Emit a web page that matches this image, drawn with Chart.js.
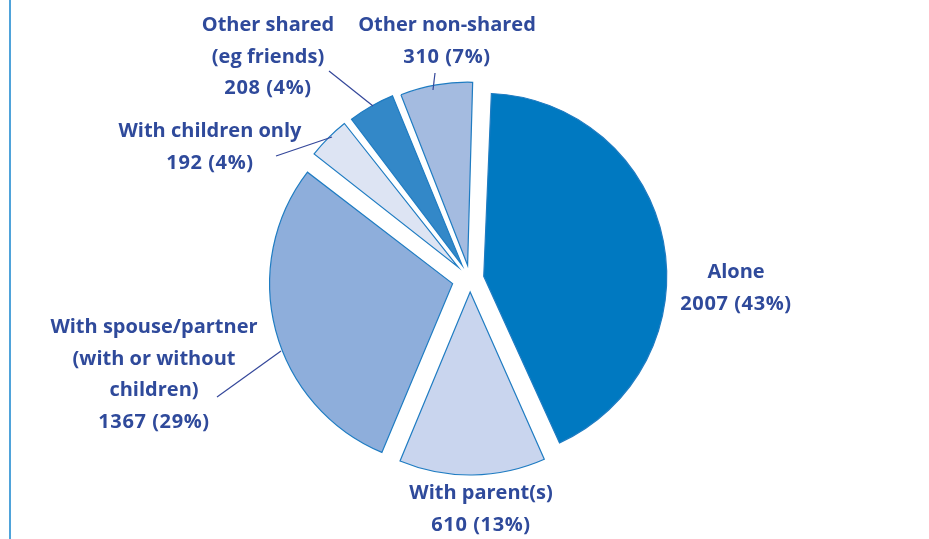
<!DOCTYPE html>
<html>
<head>
<meta charset="utf-8">
<script src="https://cdn.jsdelivr.net/npm/chart.js@4.4.0/dist/chart.umd.min.js"></script>
<style>
  html, body { margin: 0; padding: 0; background: #fff; }
  #wrap { position: relative; width: 929px; height: 539px; overflow: hidden; }
  #edge { position: absolute; left: 9px; top: 0; width: 2px; height: 539px; background: #4fa3da; }
  canvas { position: absolute; left: 0; top: 0; }
</style>
</head>
<body>
<div id="wrap">
  <canvas id="pieChart" width="929" height="539"></canvas>
  <div id="edge"></div>
</div>
<script>
// Living arrangements, clockwise from 12 o'clock
const categories = ['Alone', 'With parent(s)', 'With spouse/partner (with or without children)',
  'With children only', 'Other shared (eg friends)', 'Other non-shared'];
const counts = [2007, 610, 1367, 192, 208, 310];
const percents = [43, 13, 29, 4, 4, 7];
const nameLines = [
  ['Alone'],
  ['With parent(s)'],
  ['With spouse/partner', '(with or without', 'children)'],
  ['With children only'],
  ['Other shared', '(eg friends)'],
  ['Other non-shared']
];

// styling / layout
const sliceColors = ['#0079c1', '#c9d5ee', '#8eaedb', '#dde4f3', '#3388c8', '#a4bbe0'];
const explode = [14, 13, 18, 17, 16, 14];          // px each slice is pulled out
const RADIUS = 183;
const textColor = '#2f4a9b';
const lineHeight = 31.8;
// centre x and first-line y of every label
const labelAnchor = [[736, 272], [481, 493], [154, 327], [210, 131], [268, 25], [447, 25]];
// leader lines [label end, slice end]
const leaders = [null, null, [[217, 397], [281, 351]], [[276, 156], [332, 137]],
  [[329, 71], [373, 106]], [[435, 73], [433, 90]]];

// Chart.js grows the radius of offset arcs a little; pull it back so every slice keeps RADIUS
const keepRadius = {
  id: 'keepRadius',
  afterDatasetsUpdate(chart) {
    const meta = chart.getDatasetMeta(0);
    meta.data.forEach((arc, i) => {
      const off = explode[i];
      const fix = 1 - Math.sin(Math.min(Math.PI, arc.circumference));
      arc.outerRadius = RADIUS - off * fix;
    });
  }
};

const pieLabels = {
  id: 'pieLabels',
  afterDraw(chart) {
    const ctx = chart.ctx;
    ctx.save();
    ctx.strokeStyle = '#34479a';
    ctx.lineWidth = 1.2;
    leaders.forEach((ln) => {
      if (!ln) return;
      ctx.beginPath();
      ctx.moveTo(ln[0][0], ln[0][1]);
      ctx.lineTo(ln[1][0], ln[1][1]);
      ctx.stroke();
    });
    ctx.fillStyle = textColor;
    ctx.font = 'bold 20px "Open Sans"';
    ctx.textAlign = 'center';
    ctx.textBaseline = 'middle';
    nameLines.forEach((lines, i) => {
      const [x, y] = labelAnchor[i];
      ctx.letterSpacing = '0px';
      lines.forEach((t, k) => ctx.fillText(t, x, y + k * lineHeight));
      // the count line is set a touch wider, like the original's figures
      ctx.letterSpacing = '0.6px';
      ctx.fillText(counts[i] + ' (' + percents[i] + '%)', x, y + lines.length * lineHeight);
    });
    ctx.restore();
  }
};

const chart = new Chart(document.getElementById('pieChart'), {
  type: 'pie',
  data: {
    labels: categories,
    datasets: [{
      data: counts,
      backgroundColor: sliceColors,
      borderColor: '#1f7cc2',
      borderWidth: 1.2,
      borderJoinStyle: 'miter',
      offset: explode.map(d => d * 4)
    }]
  },
  options: {
    responsive: false,
    animation: false,
    events: [],
    rotation: 2,
    radius: RADIUS,
    layout: { padding: { left: 11, right: 0, top: 19, bottom: 0 } },
    plugins: {
      legend: { display: false },
      tooltip: { enabled: false }
    }
  },
  plugins: [keepRadius, pieLabels]
});
</script>
</body>
</html>
